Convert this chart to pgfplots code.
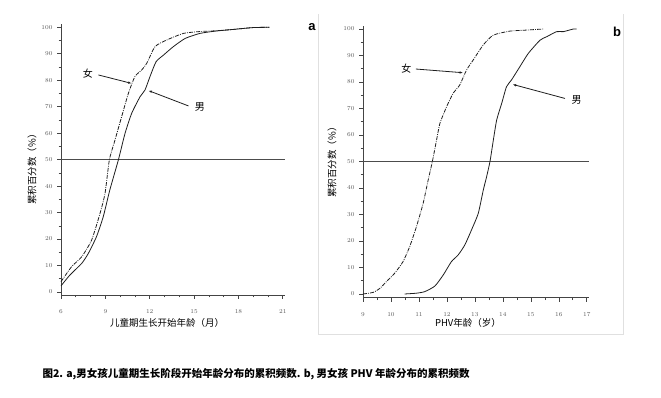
\documentclass[border=0pt]{standalone}
\usepackage{pgfplots}
\pgfplotsset{compat=1.18}
\usepackage{fontspec}
\setmainfont{Liberation Serif}
\newfontfamily\cjk{Noto Sans CJK SC}
\newfontfamily\arialb{Liberation Sans}
\usetikzlibrary{arrows.meta}
\definecolor{axcol}{HTML}{444444}
\definecolor{tkcol}{HTML}{5A5A5A}
\definecolor{lncol}{HTML}{1E1E1E}

\pgfplotstableread{
x y
6 3.9
6.72 9.6
7.4 13.3
8.07 19.6
8.64 29.7
8.98 37.3
9.27 49.9
9.65 57.4
10.1 66.2
10.56 75.1
11.0 81.4
11.46 83.9
11.8 86.4
12.36 92.7
13.15 95.2
14.28 97.7
15.4 98.4
16.5 98.7
17.66 99.2
19.0 99.9
20.1 100
}\aF
\pgfplotstableread{
x y
6 2.3
6.6 6.4
7.4 10.8
7.85 14.6
8.4 20.9
8.86 28.5
9.3 38.5
9.88 49.9
10.33 59.9
10.78 67.5
11.35 73.8
11.68 76.3
12.02 81.4
12.43 87
12.93 89.5
13.6 92.7
14.4 95.8
15.4 97.7
16.5 98.6
17.66 99.2
19 99.9
20.1 100
}\aM
\pgfplotstableread{
x y
9 0
9.36 0.6
9.6 2.1
9.84 4.7
10.13 7.8
10.43 12.2
10.67 17.9
10.91 25.4
11.15 34.2
11.33 43
11.48 50
11.63 58.1
11.75 64.4
11.99 70.7
12.22 75.7
12.46 78.9
12.7 84.5
12.94 88.3
13.3 94
13.66 97.7
14.25 99.2
14.85 99.6
15.45 100
}\bF
\pgfplotstableread{
x y
10.49 0
10.91 0.3
11.21 0.9
11.57 3
11.87 7.2
12.16 12.2
12.4 14.7
12.64 18.5
12.88 24.2
13.12 30.4
13.3 39.2
13.42 44.3
13.54 50
13.66 58.1
13.78 65.7
13.96 72
14.13 78.2
14.31 80.8
14.61 85.8
14.91 90.8
15.33 95.8
15.57 97.1
15.92 99
16.16 99
16.52 100
16.64 100
}\bM

\tikzset{
  fem/.style={lncol, line width=0.8pt, smooth, tension=0.35, dash pattern=on 4pt off 1.2pt on 0.8pt off 1.2pt},
  mal/.style={lncol, line width=0.8pt, smooth, tension=0.35},
  arr/.style={lncol, line width=0.8pt, -{Latex[length=3.5pt,width=2.5pt]}},
}
\pgfplotsset{
  panel/.style={
    scale only axis,
    axis lines=left,
    axis line style={axcol, line width=0.8pt, -},
    tick style={axcol, line width=0.6pt},
    tick align=outside,
    major tick length=4pt,
    minor tick length=2.5pt,
    ytick={0,10,...,100},
    minor ytick={5,15,...,95},
    ticklabel style={font=\fontsize{6.5}{7}\selectfont, text=tkcol},
    yticklabel style={xshift=-1pt},
    xticklabel style={yshift=-7pt},
    clip=false,
  },
}

\begin{document}
\begin{tikzpicture}[x=1pt,y=1pt]
\path[use as bounding box] (0,0) rectangle (661,398);
% panel b frame
\draw[black!12, line width=0.8pt] (318,384) -- (318,64) -- (623,64) -- (623,384);

\begin{axis}[panel, at={(61pt,103pt)}, anchor=south west,
  width=224pt, height=271pt,
  xmin=6, xmax=21.15, ymin=-1.13, ymax=101.25,
  xtick={6,9,...,21}, minor xtick={7,8,10,11,13,14,16,17,19,20}]
\addplot[black!70, line width=0.6pt] coordinates {(6,50) (21.15,50)};
\addplot[fem] table[x=x,y=y] {\aF};
\addplot[mal] table[x=x,y=y] {\aM};
\draw[arr] (axis cs:8.53,82) -- (axis cs:10.78,78.8);
\draw[arr] (axis cs:14.62,70.3) -- (axis cs:11.91,76.1);
\node[font=\cjk\fontsize{10}{10}\selectfont] at (axis cs:7.82,82.4) {女};
\node[font=\cjk\fontsize{10}{10}\selectfont] at (axis cs:15.4,70) {男};
\end{axis}

\begin{axis}[panel, at={(363pt,100.3pt)}, anchor=south west,
  width=226pt, height=272pt,
  xmin=9, xmax=17.08, ymin=-1.4, ymax=101.25,
  xtick={9,...,17}, minor xtick={9.5,10.5,...,16.5}]
\addplot[black!70, line width=0.6pt] coordinates {(9,50) (17.08,50)};
\addplot[fem] table[x=x,y=y] {\bF};
\addplot[mal] table[x=x,y=y] {\bM};
\draw[arr] (axis cs:10.89,84.9) -- (axis cs:12.58,83.5);
\draw[arr] (axis cs:16.22,73.8) -- (axis cs:14.35,79.1);
\node[font=\cjk\fontsize{10}{10}\selectfont] at (axis cs:10.55,84.9) {女};
\node[font=\cjk\fontsize{10}{10}\selectfont] at (axis cs:16.64,73.3) {男};
\end{axis}

% axis labels
\node[font=\cjk\fontsize{9.5}{10}\selectfont, rotate=90] at (32,231) {累积百分数（\%）};
\node[font=\cjk\fontsize{9.5}{10}\selectfont] at (167,75) {儿童期生长开始年龄（月）};
\node[font=\cjk\fontsize{9.5}{10}\selectfont, rotate=90] at (332,238) {累积百分数（\%）};
\node[font=\cjk\fontsize{9.5}{10}\selectfont] at (468,75) {PHV年龄（岁）};
% panel letters
\node[font=\arialb\bfseries\fontsize{13}{13}\selectfont] at (312,371) {a};
\node[font=\arialb\bfseries\fontsize{13}{13}\selectfont] at (617,366) {b};
% caption
\node[font=\cjk\bfseries\fontsize{10.5}{11}\selectfont, anchor=west] at (39,24) {图2. a,男女孩儿童期生长阶段开始年龄分布的累积频数. b, 男女孩 PHV 年龄分布的累积频数};
\end{tikzpicture}
\end{document}
